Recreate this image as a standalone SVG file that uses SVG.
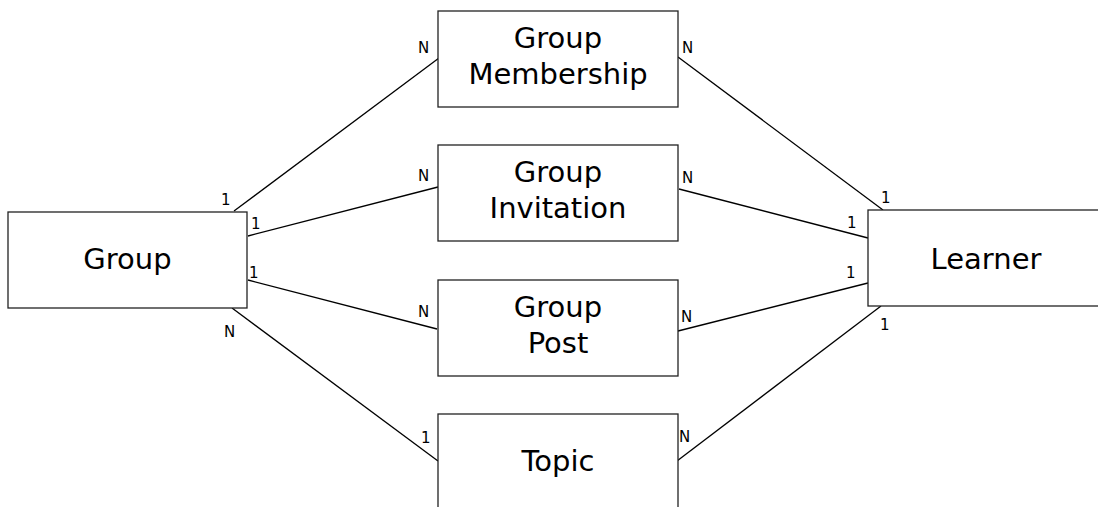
<svg xmlns="http://www.w3.org/2000/svg" width="1098" height="507" viewBox="0 0 1098 507">
<style>
.box{fill:#fff;stroke:#222;stroke-width:1.3}
.lbl{font-family:"DejaVu Sans",sans-serif;font-size:29px;fill:#000;text-anchor:middle}
.card{font-family:"DejaVu Sans",sans-serif;font-size:15px;fill:#000}
.edge{stroke:#000;stroke-width:1.3;fill:none}
</style>
<rect width="1098" height="507" fill="#fff"/>
<g id="connectors">
<line class="edge" x1="234" y1="211" x2="439" y2="58"/>
<line class="edge" x1="248" y1="236" x2="438" y2="187"/>
<line class="edge" x1="248" y1="280" x2="437" y2="329"/>
<line class="edge" x1="232" y1="308" x2="438" y2="461"/>
<line class="edge" x1="678" y1="57" x2="883" y2="210"/>
<line class="edge" x1="679" y1="189" x2="868" y2="238"/>
<line class="edge" x1="678" y1="331" x2="868" y2="283"/>
<line class="edge" x1="677" y1="461" x2="881" y2="306"/>
<text class="card" x="221" y="205">1</text>
<text class="card" x="418" y="53">N</text>
<text class="card" x="251" y="229">1</text>
<text class="card" x="418" y="181">N</text>
<text class="card" x="249" y="278">1</text>
<text class="card" x="418" y="317">N</text>
<text class="card" x="224" y="337">N</text>
<text class="card" x="421" y="443">1</text>
<text class="card" x="682" y="53">N</text>
<text class="card" x="881" y="203">1</text>
<text class="card" x="682" y="183">N</text>
<text class="card" x="847" y="228">1</text>
<text class="card" x="681" y="322">N</text>
<text class="card" x="846" y="278">1</text>
<text class="card" x="679" y="442">N</text>
<text class="card" x="880" y="330">1</text>
</g>
<g id="group">
<rect class="box" x="8" y="212" width="239" height="96"/>
<text class="lbl" x="127.5" y="269">Group</text>
</g>
<g id="group-membership">
<rect class="box" x="438" y="11" width="240" height="96"/>
<text class="lbl" x="558" y="48">Group</text>
<text class="lbl" x="558" y="84">Membership</text>
</g>
<g id="group-invitation">
<rect class="box" x="438" y="145" width="240" height="96"/>
<text class="lbl" x="558" y="182">Group</text>
<text class="lbl" x="558" y="218">Invitation</text>
</g>
<g id="group-post">
<rect class="box" x="438" y="280" width="240" height="96"/>
<text class="lbl" x="558" y="317">Group</text>
<text class="lbl" x="558" y="353">Post</text>
</g>
<g id="topic">
<rect class="box" x="438" y="414" width="240" height="110"/>
<text class="lbl" x="558" y="471">Topic</text>
</g>
<g id="learner">
<rect class="box" x="868" y="210" width="240" height="96"/>
<text class="lbl" x="986" y="269">Learner</text>
</g>
</svg>
